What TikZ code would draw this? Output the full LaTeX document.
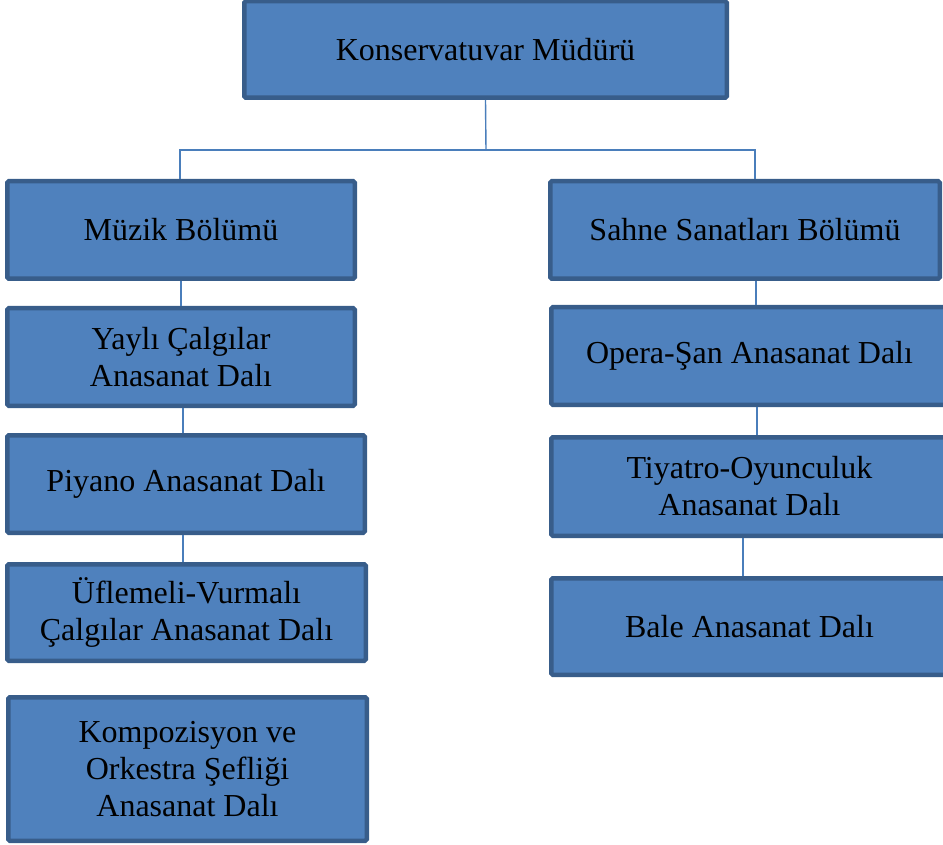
\documentclass[tikz,border=0pt]{standalone}
\usepackage{fontspec}
\setmainfont{Liberation Serif}
\definecolor{boxfill}{HTML}{4F81BD}
\definecolor{boxline}{HTML}{385D8A}
\definecolor{linkblue}{HTML}{4A7EBB}
\begin{document}
\begin{tikzpicture}[
  x=1pt,
  y=-1pt,
  unit/.style={
    draw=boxline,
    fill=boxfill,
    line width=4.5pt,
    rounded corners=1.5pt,
    inner sep=0pt,
    align=center,
    font=\fontsize{32}{37}\selectfont
  },
  link/.style={
    draw=linkblue,
    line width=1.4pt
  }
  ]
  \useasboundingbox (0, 0) rectangle (943, 845);
  \node [unit, minimum width=482.5pt, minimum height=96.5pt] (Mudur) at (485.5, 49.5) {Konservatuvar Müdürü};
  \node [unit, minimum width=347.5pt, minimum height=97.5pt] (Muzik) at (181, 230) {Müzik Bölümü};
  \node [unit, minimum width=389.5pt, minimum height=97.5pt] (Sahne) at (745, 230) {Sahne Sanatları Bölümü};
  \node [unit, minimum width=347.5pt, minimum height=97.5pt] (Yayli) at (181, 357) {Yaylı Çalgılar\\Anasanat Dalı};
  \node [unit, minimum width=357.5pt, minimum height=97.5pt] (Piyano) at (186, 484) {Piyano Anasanat Dalı};
  \node [unit, minimum width=358.5pt, minimum height=96.5pt] (Uflemeli) at (186.5, 612.5) {Üflemeli-Vurmalı\\Çalgılar Anasanat Dalı};
  \node [unit, minimum width=358.5pt, minimum height=143.5pt] (Kompozisyon) at (187.5, 769) {Kompozisyon ve\\Orkestra Şefliği\\Anasanat Dalı};
  \node [unit, minimum width=396.5pt, minimum height=97.5pt] (Opera) at (749.5, 356) {Opera-Şan Anasanat Dalı};
  \node [unit, minimum width=396.5pt, minimum height=98.5pt] (Tiyatro) at (749.5, 486.5) {Tiyatro-Oyunculuk\\Anasanat Dalı};
  \node [unit, minimum width=396.5pt, minimum height=96.5pt] (Bale) at (749.5, 626.5) {Bale Anasanat Dalı};
  \coordinate (Bus) at (486, 150);

  \draw [link] (Mudur.south) -- (Bus);
  \draw [link] ([xshift=-1pt]Muzik.north) |- (Bus) -| ([xshift=10pt]Sahne.north);
  \draw [link] (Muzik.south) -- (Muzik.south |- Yayli.north);
  \draw [link] ([xshift=2pt]Yayli.south) -- ([xshift=2pt]Yayli.south |- Piyano.north);
  \draw [link] ([xshift=-3pt]Piyano.south) -- ([xshift=-3pt]Piyano.south |- Uflemeli.north);
  \draw [link] ([xshift=11pt]Sahne.south) -- ([xshift=11pt]Sahne.south |- Opera.north);
  \draw [link] ([xshift=7.5pt]Opera.south) -- ([xshift=7.5pt]Opera.south |- Tiyatro.north);
  \draw [link] ([xshift=-6.5pt]Tiyatro.south) -- ([xshift=-6.5pt]Tiyatro.south |- Bale.north);
\end{tikzpicture}
\end{document}
